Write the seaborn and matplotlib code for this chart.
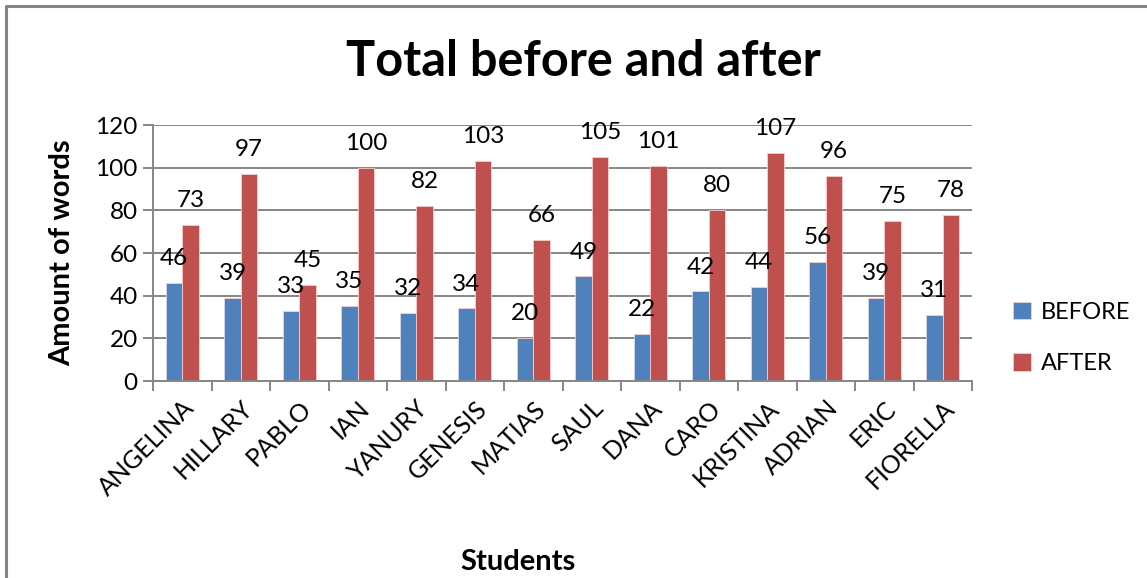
import pandas as pd
import matplotlib.pyplot as plt
import seaborn as sns
from matplotlib.lines import Line2D
from matplotlib.ticker import FixedLocator

students = ["ANGELINA", "HILLARY", "PABLO", "IAN", "YANURY", "GENESIS", "MATIAS",
            "SAUL", "DANA", "CARO", "KRISTINA", "ADRIAN", "ERIC", "FIORELLA"]
before = [46, 39, 33, 35, 32, 34, 20, 49, 22, 42, 44, 56, 39, 31]
after = [73, 97, 45, 100, 82, 103, 66, 105, 101, 80, 107, 96, 75, 78]
series = ["BEFORE", "AFTER"]
colors = ["#4F81BD", "#C0504D"]
y_ticks = [0, 20, 40, 60, 80, 100, 120]

df = pd.DataFrame({
    "student": students * 2,
    "series": ["BEFORE"] * len(students) + ["AFTER"] * len(students),
    "words": before + after,
})

sns.set_theme(style="white")
plt.rcParams["font.family"] = ["Lato", "DejaVu Sans"]
plt.rcParams["text.color"] = "black"
plt.rcParams["axes.labelcolor"] = "black"
grid_col = "#868686"

W, H = 1147, 578
fig = plt.figure(figsize=(W / 100, H / 100), dpi=100)

# outer chart border (cut off at right and bottom)
fig.add_artist(Line2D([6 / W, 1], [1 - 6 / H, 1 - 6 / H], color=grid_col, lw=2.2,
                      transform=fig.transFigure))
fig.add_artist(Line2D([6 / W, 6 / W], [0, 1 - 6 / H], color=grid_col, lw=2.2,
                      transform=fig.transFigure))

ax = fig.add_axes([153 / W, (H - 381) / H, (972 - 153) / W, (381 - 125) / H])
sns.barplot(data=df, x="student", y="words", hue="series", hue_order=series,
            palette=colors, width=0.56, saturation=1, ax=ax, legend=True,
            edgecolor="#f2d0cf", linewidth=0.6)

for cont in ax.containers:
    ax.bar_label(cont, padding=10, fontsize=17.5, color="black")

ax.set_ylim(0, 120)
ax.set_xlim(-0.5, len(students) - 0.5)
ax.set_yticks(y_ticks)
ax.yaxis.grid(True, color=grid_col, lw=1.4)
ax.set_axisbelow(True)
ax.tick_params(axis="y", labelsize=17.5, labelcolor="black", length=7, width=1.4,
               color=grid_col, left=True, pad=4)
ax.xaxis.set_minor_locator(FixedLocator([i - 0.5 for i in range(len(students) + 1)]))
ax.tick_params(axis="x", which="major", length=0, labelsize=18, labelcolor="black", pad=11)
ax.tick_params(axis="x", which="minor", length=7, width=1.4, color=grid_col, bottom=True)
plt.setp(ax.get_xticklabels(), rotation=45, ha="right", rotation_mode="anchor")

for s in ["top", "right"]:
    ax.spines[s].set_visible(False)
for s in ["left", "bottom"]:
    ax.spines[s].set_color(grid_col)
    ax.spines[s].set_linewidth(1.4)

ax.set_xlabel("Students", fontsize=21, fontweight="bold", labelpad=0)
ax.xaxis.set_label_coords((518 - 153) / (972 - 153), -(549 - 381) / (381 - 125))
ax.set_ylabel("Amount of words", fontsize=21, fontweight="bold")
ax.yaxis.set_label_coords(-(153 - 75) / (972 - 153), 0.5)

fig.text(583 / W, 1 - 61 / H, "Total before and after", fontsize=35,
         fontweight="bold", ha="center", va="center")

leg = ax.legend(loc="center left", bbox_to_anchor=(1004 / W, 1 - 338 / H),
                bbox_transform=fig.transFigure, frameon=False, fontsize=17,
                handlelength=0.75, handleheight=0.75, handletextpad=0.4,
                labelspacing=1.3, borderaxespad=0)

fig.savefig("out.png", dpi=100)
